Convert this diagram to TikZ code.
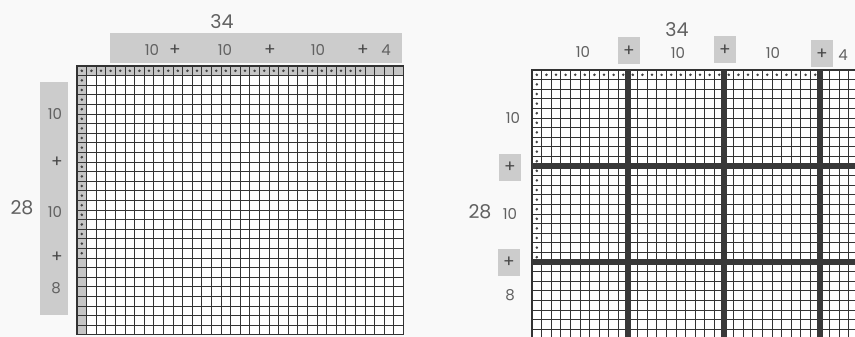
\documentclass[tikz,border=0pt]{standalone}
\usepackage{fontspec}
\setmainfont{Poppins}
\usetikzlibrary{positioning}
\definecolor{bandgray}{gray}{0.80}
\definecolor{inkgray}{gray}{0.38}
\newcommand{\cel}{9.6}

\begin{document}
\begin{tikzpicture}[x=1pt,y=-1pt,
  num/.style={font=\fontsize{15}{15}\selectfont,text=inkgray,inner sep=0pt},
  big/.style={font=\fontsize{19}{19}\selectfont,text=inkgray,inner sep=0pt},
  plus/.style={font=\fontsize{17}{17}\selectfont,text=black!72,inner sep=0pt},
  plusbox/.style={plus,fill=bandgray,minimum width=22pt,minimum height=27pt},
  gridline/.style={draw=black!80,line width=0.85pt},
  rim/.style={draw=black!80,line width=1.3pt},
  heavy/.style={draw=black!78,line width=6pt},
  dot/.style={fill=black!75}]
\fill[gray!5] (0,0) rectangle (855,337);
\useasboundingbox (0,0) rectangle (855,337);
\clip (0,0) rectangle (855,337);
% left: plain grid
\fill[bandgray] (110,33) rectangle (402,63);
\fill[bandgray] (40,82) rectangle (68,315);
\begin{scope}[shift={(77,66)}]
\fill[white] (0,0) rectangle (34*\cel,28*\cel);
\fill[gray!45] (0,0) rectangle (34*\cel,\cel);
\fill[gray!45] (0,0) rectangle (\cel,28*\cel);
\foreach \i in {0,...,34} \draw[gridline] (\i*\cel,0) -- (\i*\cel,28*\cel);
\foreach \j in {0,...,28} \draw[gridline] (0,\j*\cel) -- (34*\cel,\j*\cel);
\draw[rim] (0,0) rectangle (34*\cel,28*\cel);
\foreach \i in {0,...,29} \fill[dot] (\i*\cel+\cel/2,\cel/2) circle[radius=1.4pt];
\foreach \j in {1,...,19} \fill[dot] (\cel/2,\j*\cel+\cel/2) circle[radius=1.4pt];
\end{scope}
\node[big] (ltot) at (222,22) {34};
\node[num] (la) at (152,50) {10};
\node[plus] (lpa) at (175,50) {+};
\node[num] (lb) at (225,50) {10};
\node[plus] (lpb) at (270,50) {+};
\node[num] (lc) at (318,50) {10};
\node[plus] (lpc) at (363,50) {+};
\node[num] (ld) at (386,50) {4};
\node[big] (ltot2) at (22,208) {28};
\node[num] (le) at (55,114) {10};
\node[plus] (lpe) at (57,162) {+};
\node[num] (lf) at (55,212) {10};
\node[plus] (lpf) at (57,257) {+};
\node[num] (lg) at (56,288) {8};
% right: grid split in tens
\begin{scope}[shift={(532,70)}]
\fill[white] (0,0) rectangle (34*\cel,28*\cel);
\foreach \i in {0,...,34} \draw[gridline] (\i*\cel,0) -- (\i*\cel,28*\cel);
\foreach \j in {0,...,28} \draw[gridline] (0,\j*\cel) -- (34*\cel,\j*\cel);
\draw[rim] (0,0) rectangle (34*\cel,28*\cel);
\foreach \i in {0,...,29} \fill[dot] (\i*\cel+\cel/2,\cel/2) circle[radius=1.4pt];
\foreach \j in {1,...,19} \fill[dot] (\cel/2,\j*\cel+\cel/2) circle[radius=1.4pt];
\foreach \i in {10,20,30} \draw[heavy] (\i*\cel,0) -- (\i*\cel,28*\cel);
\foreach \j in {10,20} \draw[heavy] (0,\j*\cel) -- (34*\cel,\j*\cel);
\end{scope}
\node[big] (rtot) at (677,30) {34};
\node[num] (ra) at (583,52) {10};
\node[plusbox] (rpa) at (629,51) {+};
\node[num] (rb) at (678,53) {10};
\node[plusbox] (rpb) at (725,50) {+};
\node[num] (rc) at (773,53) {10};
\node[plusbox] (rpc) at (822,54) {+};
\node[num] (rd) at (843,55) {4};
\node[big] (rtot2) at (480,212) {28};
\node[num] (re) at (513,118) {10};
\node[plusbox] (rpe) at (510,167) {+};
\node[num] (rf) at (510,214) {10};
\node[plusbox] (rpf) at (509,262) {+};
\node[num] (rg) at (510,295) {8};
\end{tikzpicture}
\end{document}
